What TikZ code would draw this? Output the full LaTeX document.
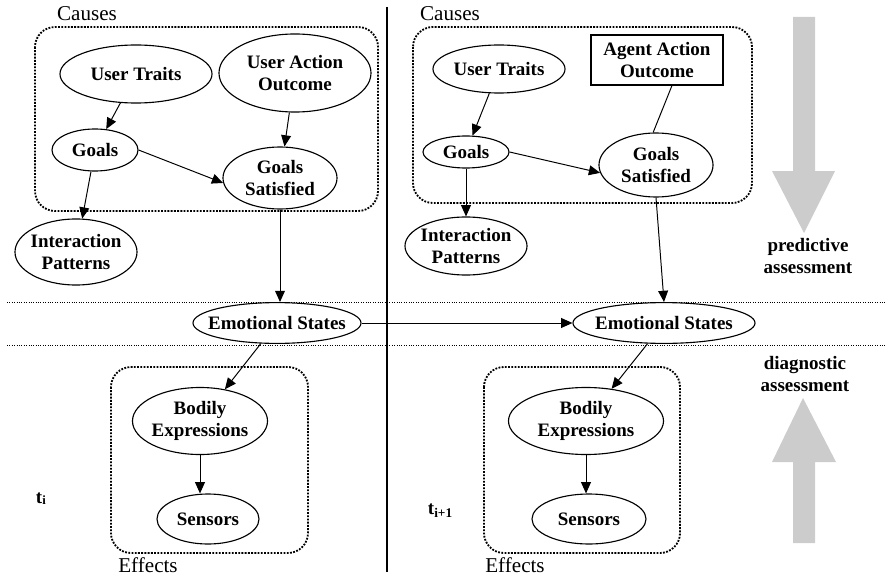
\documentclass[tikz,border=0pt]{standalone}
\usepackage{fontspec}
\setmainfont{Liberation Serif}
\usetikzlibrary{shapes,arrows.meta,positioning}
\definecolor{arrowgray}{RGB}{204,204,204}
\tikzset{
  var/.style={draw, ellipse, line width=0.8pt, align=center,
    font=\fontsize{13.5}{15.5}\selectfont\bfseries, inner xsep=-8pt, inner ysep=0pt},
  obs/.style={draw, rectangle, line width=1.1pt, align=center,
    font=\fontsize{13.5}{15.5}\selectfont\bfseries, inner sep=0pt},
  arr/.style={-{Triangle[length=8pt,width=7pt]}, line width=0.7pt},
  group/.style={densely dotted, line width=1.3pt, rounded corners=0.5cm},
  sep/.style={densely dotted, line width=0.7pt},
  caption/.style={font=\fontsize{15}{17}\selectfont},
  side/.style={font=\fontsize{13.5}{15.5}\selectfont\bfseries, align=center}
}

\begin{document}
\begin{tikzpicture}[x=0.025cm, y=-0.025cm]
      \useasboundingbox (0, 0) rectangle (886, 577);
      % slices and levels
      \draw[sep] (7, 302) -- (886, 302)
                 (7, 345) -- (886, 345);
      \draw[line width=0.8pt] (387, 7) -- (387, 572);
      % dotted groups
      \draw[group] (35, 27) rectangle (378, 211)
                   (413, 27) rectangle (752, 203)
                   (111, 367) rectangle (308, 553)
                   (484, 367) rectangle (680, 553);
      \node[caption] (causes1) at (87, 14) {Causes};
      \node[caption] (causes2) at (450, 14) {Causes};
      \node[caption] (effects1) at (148, 565) {Effects};
      \node[caption] (effects2) at (515, 565) {Effects};
      % slice t_i
      \node[var, minimum width=3.8cm, minimum height=1.45cm] (ut1) at (136, 74) {User Traits};
      \node[var, minimum width=3.8cm, minimum height=1.95cm] (ua1) at (295, 73) {User Action\\Outcome};
      \node[var, minimum width=2.15cm, minimum height=1.05cm] (g1) at (95, 150) {Goals};
      \node[var, minimum width=2.85cm, minimum height=1.55cm] (gs1) at (280, 178) {Goals\\Satisfied};
      \node[var, minimum width=3.05cm, minimum height=1.65cm] (ip1) at (76, 252) {Interaction\\Patterns};
      \node[var, minimum width=4.2cm, minimum height=1.02cm] (es1) at (277, 323) {Emotional States};
      \node[var, minimum width=3.375cm, minimum height=1.675cm] (be1) at (200, 421) {Bodily\\Expressions};
      \node[var, minimum width=2.55cm, minimum height=1.25cm] (se1) at (208, 519) {Sensors};
      % slice t_{i+1}
      \node[var, minimum width=3.3cm, minimum height=1.2cm] (ut2) at (499, 69) {User Traits};
      \node[obs, minimum width=3.3cm, minimum height=1.25cm] (aa2) at (657, 60) {Agent Action\\Outcome};
      \node[var, minimum width=2.15cm, minimum height=0.8cm] (g2) at (466, 152) {Goals};
      \node[var, minimum width=2.85cm, minimum height=1.6cm] (gs2) at (656, 165) {Goals\\Satisfied};
      \node[var, minimum width=3.05cm, minimum height=1.45cm] (ip2) at (466, 246) {Interaction\\Patterns};
      \node[var, minimum width=4.55cm, minimum height=1.02cm] (es2) at (664, 323) {Emotional States};
      \node[var, minimum width=3.875cm, minimum height=1.675cm] (be2) at (586, 421) {Bodily\\Expressions};
      \node[var, minimum width=2.85cm, minimum height=1.25cm] (se2) at (589, 519) {Sensors};
      % time labels
      \node[side, anchor=base west] (ti) at (31, 503) {t\raisebox{-1pt}{\small i}};
      \node[side, anchor=base west] (tnext) at (423, 514) {t\textsubscript{i+1}};
      % links
      \draw[arr] (ut1) -- (g1);
      \draw[arr] (ua1) -- (gs1);
      \draw[arr] (g1.east) -- (gs1.185);
      \draw[arr] (g1) -- (ip1);
      \draw[arr] (gs1) -- (gs1 |- es1.north);
      \draw[arr] (es1) -- (be1);
      \draw[arr] (be1) -- (be1 |- se1.north);
      \draw[arr] (ut2) -- (g2);
      \draw[line width=0.7pt] (aa2.-60) -- (gs2.95);
      \draw[arr] (g2.east) -- (gs2.188);
      \draw[arr] (g2) -- (ip2);
      \draw[arr] (gs2.south) -- (es2.north);
      \draw[arr] (es2) -- (be2);
      \draw[arr] (be2) -- (be2 |- se2.north);
      \draw[arr] (es1) -- (es2);
      % assessment arrows
      \fill[arrowgray] (793, 17) -- (815, 17) -- (815, 171) -- (835, 171)
                       -- (804, 233) -- (772, 171) -- (793, 171) -- cycle;
      \fill[arrowgray] (793, 543) -- (815, 543) -- (815, 462) -- (836, 462)
                       -- (803, 398) -- (772, 462) -- (793, 462) -- cycle;
      \node[side] (predictive) at (808, 256) {predictive\\assessment};
      \node[side] (diagnostic) at (805, 374) {diagnostic\\assessment};
\end{tikzpicture}
\end{document}
